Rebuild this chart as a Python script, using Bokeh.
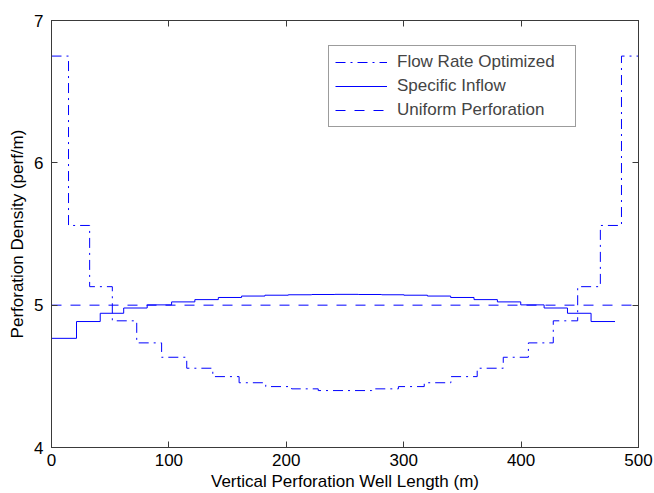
from bokeh.plotting import figure
from bokeh.models import LinearAxis, FixedTicker, Range1d, Legend, LegendItem
from bokeh.embed import file_html
from bokeh.resources import INLINE

# Flow Rate Optimized (stair edges and levels)
flow_x = [0, 14.5, 32.5, 51.8, 72.6, 93.8, 115.2, 137.4, 159.8, 182.5, 204.5, 227.2, 250,
          272.8, 295.5, 317.5, 340.2, 362.6, 384.8, 406.2, 427.4, 448.2, 467.5, 485.5, 500]
flow_y = [6.75, 5.56, 5.13, 4.89, 4.735, 4.634, 4.557, 4.498, 4.455, 4.428, 4.412, 4.40,
          4.40, 4.412, 4.428, 4.455, 4.498, 4.557, 4.634, 4.735, 4.89, 5.13, 5.56, 6.75]

# Specific Inflow (stair edges and levels)
inflow_x = [0, 21.3, 41.5, 61.5, 81.5, 102.3, 122.1, 142.1, 161.9, 181.8, 201.7, 221.6, 241.4,
            261.3, 281.2, 300.2, 320.2, 340.0, 359.9, 379.8, 399.7, 419.6, 439.5, 459.6, 480.0]
inflow_y = [4.767, 4.885, 4.943, 4.980, 5.002, 5.023, 5.039, 5.054, 5.064, 5.070, 5.073, 5.075,
            5.076, 5.075, 5.073, 5.070, 5.064, 5.054, 5.039, 5.023, 5.002, 4.980, 4.943, 4.885]

# Uniform Perforation
uniform_x = [0, 500]
uniform_y = [5, 5]

x_ticks = [0, 100, 200, 300, 400, 500]
y_ticks = [4, 5, 6, 7]

FONT = "Liberation Sans"
AX = "#3a3a3a"
BLUE = "#0000ff"

p = figure(width=654, height=493, output_backend="svg", toolbar_location=None,
           x_range=Range1d(0, 500), y_range=Range1d(4, 7),
           min_border_left=51, min_border_right=16, min_border_top=20, min_border_bottom=46,
           x_axis_label="Vertical Perforation Well Length (m)",
           y_axis_label="Perforation Density (perf/m)")
p.grid.visible = False
p.outline_line_color = AX
p.outline_line_width = 1
p.background_fill_color = "white"
p.border_fill_color = "white"

for ax, ticks in ((p.xaxis[0], x_ticks), (p.yaxis[0], y_ticks)):
    ax.ticker = FixedTicker(ticks=ticks)
    ax.minor_tick_line_color = None
    ax.major_tick_in = 6
    ax.major_tick_out = 0
    ax.axis_line_color = AX
    ax.major_tick_line_color = AX
    ax.major_label_text_font = FONT
    ax.major_label_text_font_size = "17px"
    ax.major_label_text_color = "black"
    ax.axis_label_text_font = FONT
    ax.axis_label_text_font_size = "17px"
    ax.axis_label_text_font_style = "normal"
    ax.axis_label_text_color = "black"

p.xaxis[0].major_label_standoff = 6
p.xaxis[0].axis_label_standoff = 3
p.yaxis[0].major_label_standoff = 8
p.yaxis[0].axis_label_standoff = 4

top = LinearAxis(ticker=FixedTicker(ticks=x_ticks), major_tick_in=6, major_tick_out=0,
                 minor_tick_line_color=None, major_label_text_font_size="1px",
                 major_label_overrides={t: "" for t in x_ticks},
                 major_label_standoff=0, axis_line_color=AX, major_tick_line_color=AX)
right = LinearAxis(ticker=FixedTicker(ticks=y_ticks), major_tick_in=6, major_tick_out=0,
                   minor_tick_line_color=None, major_label_text_font_size="1px",
                   major_label_overrides={t: "" for t in y_ticks},
                   major_label_standoff=0, axis_line_color=AX, major_tick_line_color=AX)
p.add_layout(top, "above")
p.add_layout(right, "right")

r_flow = p.step(x=flow_x, y=flow_y + [flow_y[-1]], mode="after", line_color=BLUE,
                line_width=1, line_dash="10 5 2 5")
r_inflow = p.step(x=inflow_x, y=inflow_y + [inflow_y[-1]], mode="after", line_color=BLUE,
                  line_width=1)
r_uni = p.line(x=uniform_x, y=uniform_y, line_color=BLUE, line_width=1, line_dash="10 9")

legend = Legend(items=[LegendItem(label="Flow Rate Optimized", renderers=[r_flow]),
                       LegendItem(label="Specific Inflow", renderers=[r_inflow]),
                       LegendItem(label="Uniform Perforation", renderers=[r_uni])],
                location=(277, 320), glyph_width=52, glyph_height=20, label_height=20,
                label_width=172, label_standoff=10, spacing=4, padding=6, margin=0,
                label_text_font=FONT, label_text_font_size="17px",
                border_line_color=AX, border_line_width=1,
                background_fill_color="white", background_fill_alpha=1)
p.add_layout(legend, "center")

open("out.html", "w").write(file_html(p, INLINE))
